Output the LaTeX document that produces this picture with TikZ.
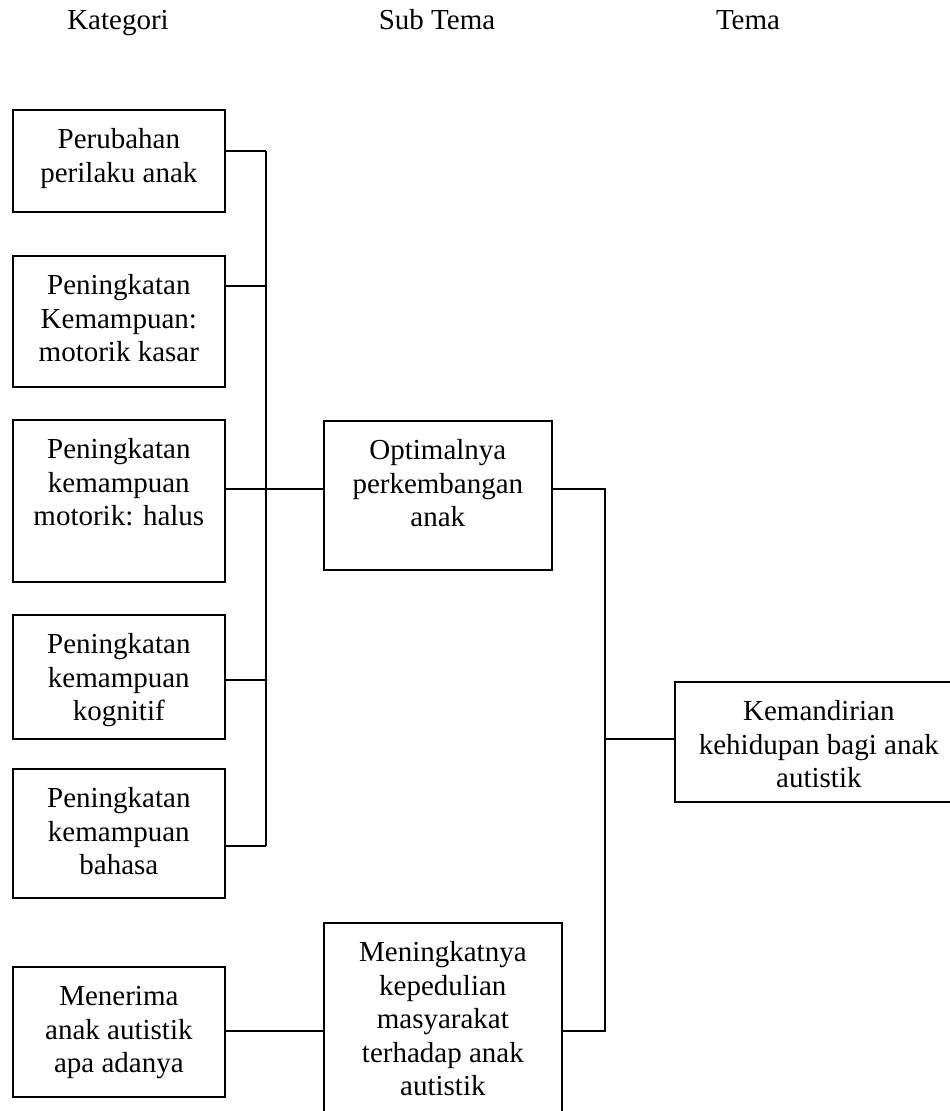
\documentclass[tikz,border=0pt]{standalone}
\usepackage{fontspec}
\setmainfont{Liberation Serif}
\newcommand\dfont{\fontsize{29}{33.5}\selectfont}
\begin{document}
\begin{tikzpicture}[x=1pt,y=-1pt,
  box/.style={draw, line width=1.7pt, inner sep=0pt, anchor=north west},
  txt/.style={font=\dfont, align=center, inner sep=0pt, anchor=north},
  head/.style={font=\dfont, inner sep=0pt, anchor=base},
  conn/.style={line width=1.7pt}]
\clip (0,0) rectangle (950,1111);
\fill[white] (0,0) rectangle (950,1111);
% headers
\node[head] (h1) at (118,29) {Kategori};
\node[head] (h2) at (437,29) {Sub Tema};
\node[head] (h3) at (748,29) {Tema};
% kategori boxes
\node[box, minimum width=212pt, minimum height=102pt] (k1) at (12,109) {};
\node[box, minimum width=212pt, minimum height=131pt] (k2) at (12,255) {};
\node[box, minimum width=212pt, minimum height=162pt] (k3) at (12,419) {};
\node[box, minimum width=212pt, minimum height=124pt] (k4) at (12,614) {};
\node[box, minimum width=212pt, minimum height=129pt] (k5) at (12,768) {};
\node[box, minimum width=212pt, minimum height=130pt] (k6) at (12,966) {};
% sub tema boxes
\node[box, minimum width=228pt, minimum height=149pt] (s1) at (323,420) {};
\node[box, minimum width=238pt, minimum height=230pt] (s2) at (323,922) {};
% tema box
\node[box, minimum width=288pt, minimum height=120pt] (t1) at (674,681) {};
% texts
\node[txt] (k1t) at ([yshift=-16pt]k1.north) {\strut Perubahan\\perilaku anak};
\node[txt] (k2t) at ([yshift=-16pt]k2.north) {\strut Peningkatan\\Kemampuan:\\motorik kasar};
\node[txt] (k3t) at ([yshift=-16pt]k3.north) {\strut Peningkatan\\kemampuan\\motorik: halus};
\node[txt] (k4t) at ([yshift=-16pt]k4.north) {\strut Peningkatan\\kemampuan\\kognitif};
\node[txt] (k5t) at ([yshift=-16pt]k5.north) {\strut Peningkatan\\kemampuan\\bahasa};
\node[txt] (k6t) at ([yshift=-16pt]k6.north) {\strut Menerima\\anak autistik\\apa adanya};
\node[txt] (s1t) at ([yshift=-16pt]s1.north) {\strut Optimalnya\\perkembangan\\anak};
\node[txt] (s2t) at ([yshift=-16pt]s2.north) {\strut Meningkatnya\\kepedulian\\masyarakat\\terhadap anak\\autistik};
\node[txt] (t1t) at ([yshift=-16pt]t1.north) {\strut Kemandirian\\kehidupan bagi anak\\autistik};
% left bus
\coordinate (b1) at (266,151);
\coordinate (b2) at (266,286);
\coordinate (b3) at (266,489);
\coordinate (b4) at (266,680);
\coordinate (b5) at (266,846);
\draw[conn] (b1) -- (b5);
\draw[conn] (k1.east |- b1) -- (b1);
\draw[conn] (k2.east |- b2) -- (b2);
\draw[conn] (k3.east |- b3) -- (s1.west |- b3);
\draw[conn] (k4.east |- b4) -- (b4);
\draw[conn] (k5.east |- b5) -- (b5);
% right bus
\coordinate (r1) at (605,489);
\coordinate (r2) at (605,739);
\coordinate (r3) at (605,1031);
\draw[conn] (s1.east |- r1) -- (r1) -- (r3) -- (s2.east |- r3);
\draw[conn] (r2) -- (t1.west |- r2);
% menerima link
\draw[conn] (k6.east |- r3) -- (s2.west |- r3);
\end{tikzpicture}
\end{document}
